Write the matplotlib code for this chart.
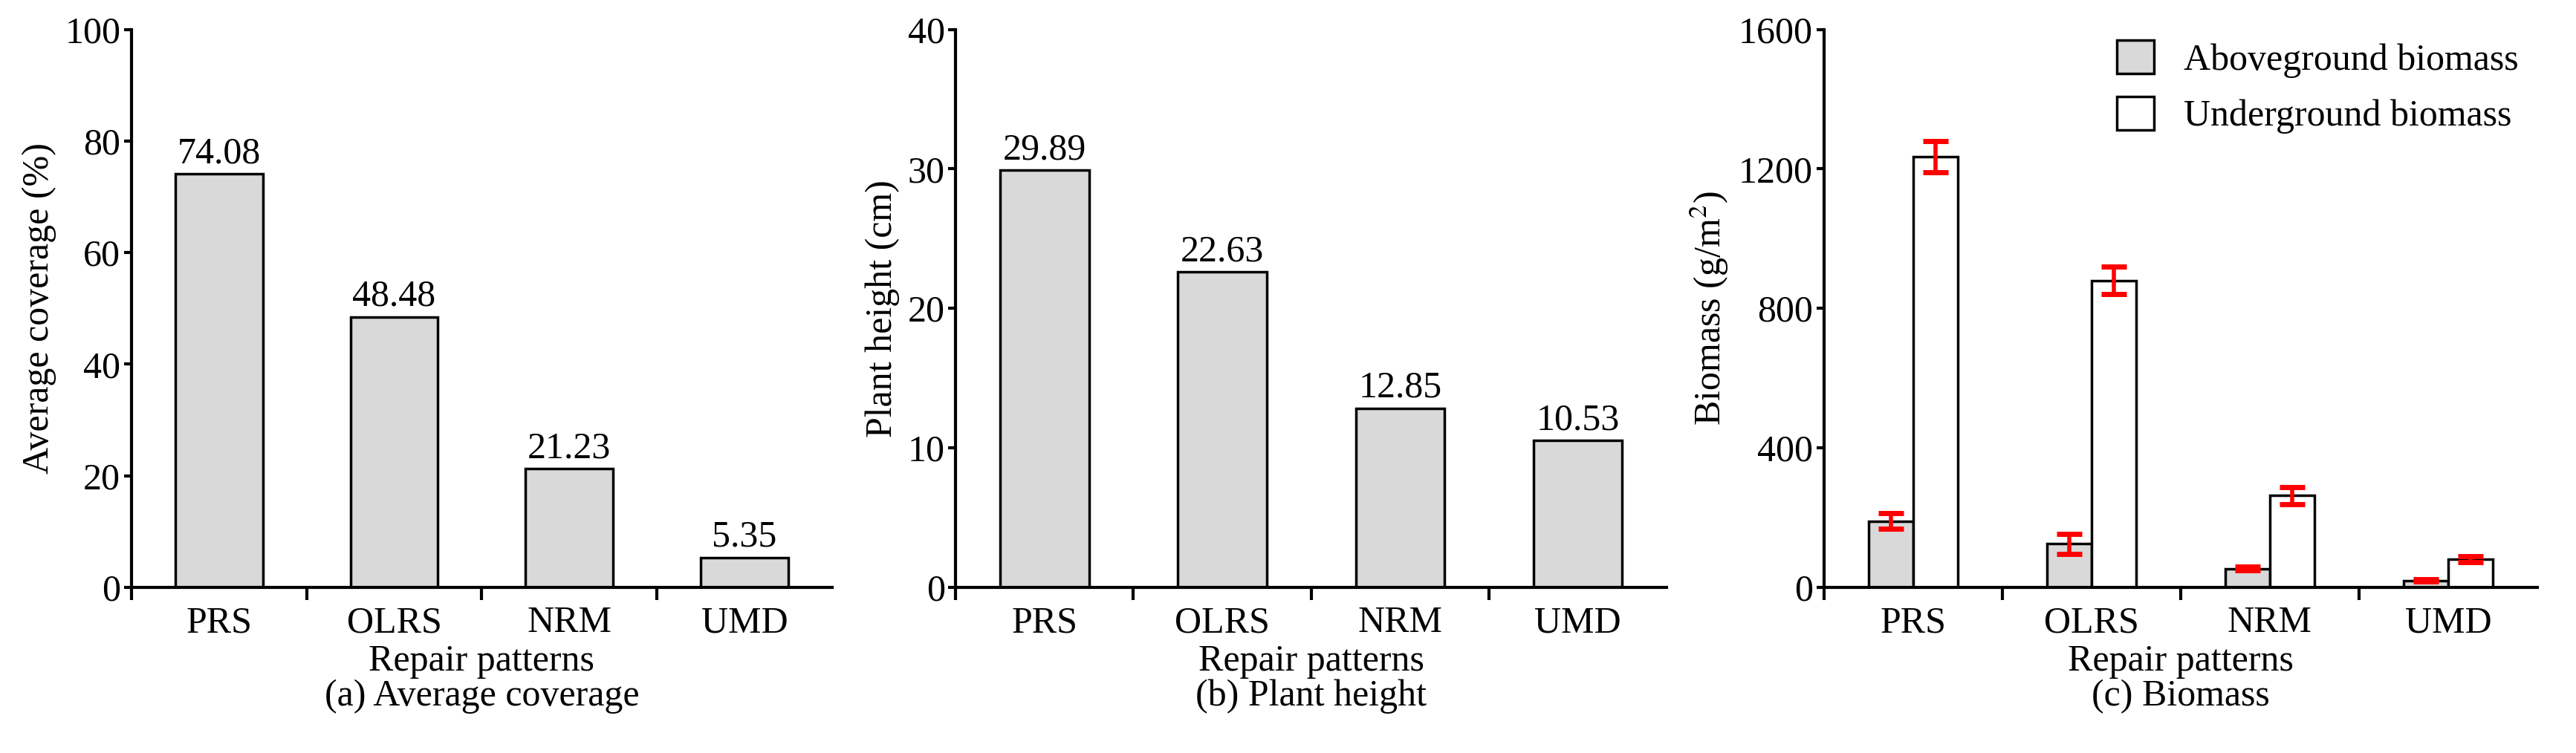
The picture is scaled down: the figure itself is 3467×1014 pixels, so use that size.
import numpy as np
from matplotlib import pyplot as plt

plt.rcParams["font.family"] = ["Liberation Serif", "DejaVu Serif"]
plt.rcParams["mathtext.fontset"] = "stix"

patterns = ["PRS", "OLRS", "NRM", "UMD"]
coverage = [74.08, 48.48, 21.23, 5.35]
height = [29.89, 22.63, 12.85, 10.53]
above = [190, 125, 54, 20]
above_err = [22, 29, 5, 4]
under = [1235, 880, 263, 81]
under_err = [45, 40, 25, 8]

FS = 36
fig = plt.figure(figsize=(34.67, 10.14), dpi=100)
boxes = [(0.051, 0.22, 0.272, 0.741), (0.371, 0.22, 0.276, 0.741), (0.708, 0.22, 0.277, 0.741)]
axes = [fig.add_axes(b) for b in boxes]
x = np.arange(len(patterns)) + 0.5


def style(ax, ymax, step, ylabel, caption):
    ax.set_xlim(0, 4)
    ax.set_ylim(0, ymax)
    ax.set_yticks(np.arange(0, ymax + 1, step))
    ax.set_xticks([0, 1, 2, 3])
    ax.set_xticklabels([])
    ax.set_xticks(x, minor=True)
    ax.set_xticklabels(patterns, minor=True)
    ax.tick_params(axis="x", which="minor", length=0, labelsize=FS, pad=18)
    ax.tick_params(axis="x", which="major", length=12, width=3, direction="out")
    ax.tick_params(axis="y", length=7, width=3, direction="out", labelsize=FS)
    for s in ("top", "right"):
        ax.spines[s].set_visible(False)
    for s in ("left", "bottom"):
        ax.spines[s].set_linewidth(3)
    ax.set_ylabel(ylabel, fontsize=FS, labelpad=8)
    ax.set_xlabel("Repair patterns\n" + caption, fontsize=FS, labelpad=4, linespacing=1.0)


for ax, vals, ymax, step, ylab, cap in [
    (axes[0], coverage, 100, 20, "Average coverage (%)", "(a) Average coverage"),
    (axes[1], height, 40, 10, "Plant height (cm)", "(b) Plant height"),
]:
    bars = ax.bar(x, vals, width=0.5, color="#d9d9d9", edgecolor="black", linewidth=2.5)
    for b, v in zip(bars, vals):
        ax.text(b.get_x() + b.get_width() / 2, v + ymax * 0.005, f"{v:.2f}",
                ha="center", va="bottom", fontsize=FS)
    style(ax, ymax, step, ylab, cap)

ax = axes[2]
ax.bar(x - 0.125, above, width=0.25, color="#d9d9d9", edgecolor="black", linewidth=2.5,
       label="Aboveground biomass")
ax.bar(x + 0.125, under, width=0.25, color="white", edgecolor="black", linewidth=2.5,
       label="Underground biomass")
ax.errorbar(x - 0.125, above, yerr=above_err, fmt="none", ecolor="red", elinewidth=4,
            capsize=12, capthick=5)
ax.errorbar(x + 0.125, under, yerr=under_err, fmt="none", ecolor="red", elinewidth=4,
            capsize=12, capthick=5)
style(ax, 1600, 400, "Biomass (g/m$^2$)", "(c) Biomass")
ax.legend(loc="upper right", frameon=False, fontsize=FS, handlelength=1.0, handleheight=1.0,
          bbox_to_anchor=(1.02, 1.04))

fig.savefig("out.png", dpi=100)
